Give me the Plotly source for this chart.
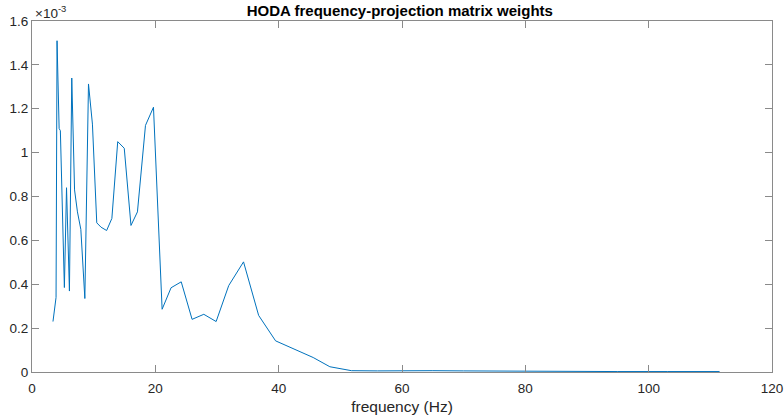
import plotly.graph_objects as go

# frequency (Hz) and weights (in units of 1e-3)
freq_hz = [3.4, 3.9, 4.06, 4.4, 4.6, 5.25, 5.6, 6.07, 6.45, 6.9, 7.37, 7.92, 8.57,
           9.16, 9.8, 10.5, 11.2, 12.1, 12.95, 13.9, 14.96, 16.05, 17.1, 18.4, 19.7,
           21.1, 22.55, 24.2, 25.96, 27.86, 29.86, 31.9, 34.3, 36.75, 39.5, 42.3,
           45.6, 48.3, 51.8, 56, 60, 65, 70, 75, 80, 88, 95, 103, 111.5]
weight_e3 = [0.23, 0.34, 1.51, 1.11, 1.10, 0.385, 0.84, 0.369, 1.34, 0.83, 0.73, 0.65, 0.335,
             1.313, 1.13, 0.68, 0.66, 0.645, 0.70, 1.05, 1.02, 0.668, 0.73, 1.124, 1.207,
             0.286, 0.384, 0.411, 0.24, 0.263, 0.23, 0.394, 0.502, 0.258, 0.142, 0.108,
             0.066, 0.024, 0.006, 0.005, 0.006, 0.006, 0.005, 0.004, 0.003, 0.002, 0.002,
             0.002, 0.002]

x_ticks = [0, 20, 40, 60, 80, 100, 120]
y_ticks = [0, 0.2, 0.4, 0.6, 0.8, 1.0, 1.2, 1.4, 1.6]
y_tick_text = ["0", "0.2", "0.4", "0.6", "0.8", "1", "1.2", "1.4", "1.6"]

FONT = "Liberation Sans, Arial"
fig = go.Figure()
fig.add_trace(go.Scatter(x=freq_hz, y=weight_e3, mode="lines",
                         line=dict(color="#0072BD", width=1), showlegend=False))

axis_common = dict(showline=True, mirror="ticks", linecolor="#8a8a8a", linewidth=1,
                   ticks="inside", ticklen=7, tickcolor="#8a8a8a", showgrid=False,
                   zeroline=False, automargin=False,
                   tickfont=dict(family=FONT, size=13.5, color="#262626"))

fig.update_layout(
    width=784, height=417,
    margin=dict(l=32, r=12, t=21, b=45),
    paper_bgcolor="white", plot_bgcolor="white",
    title=dict(text="<b>HODA frequency-projection matrix weights</b>", x=0.51, xanchor="center",
               y=0.974, yanchor="middle",
               font=dict(family=FONT, size=15, color="#000000")),
    xaxis=dict(range=[0, 120], tickvals=x_ticks, ticklabelstandoff=4,
               title=dict(text="frequency (Hz)", standoff=5,
                          font=dict(family=FONT, size=15.5, color="#262626")), **axis_common),
    yaxis=dict(range=[0, 1.6], tickvals=y_ticks, ticktext=y_tick_text, **axis_common),
)
fig.add_annotation(text="×10<sup>-3</sup>", xref="paper", yref="paper", x=0.002, y=1.0,
                   xanchor="left", yanchor="bottom", showarrow=False, yshift=-2,
                   font=dict(family=FONT, size=13.5, color="#262626"))

fig.write_html("out.html")
